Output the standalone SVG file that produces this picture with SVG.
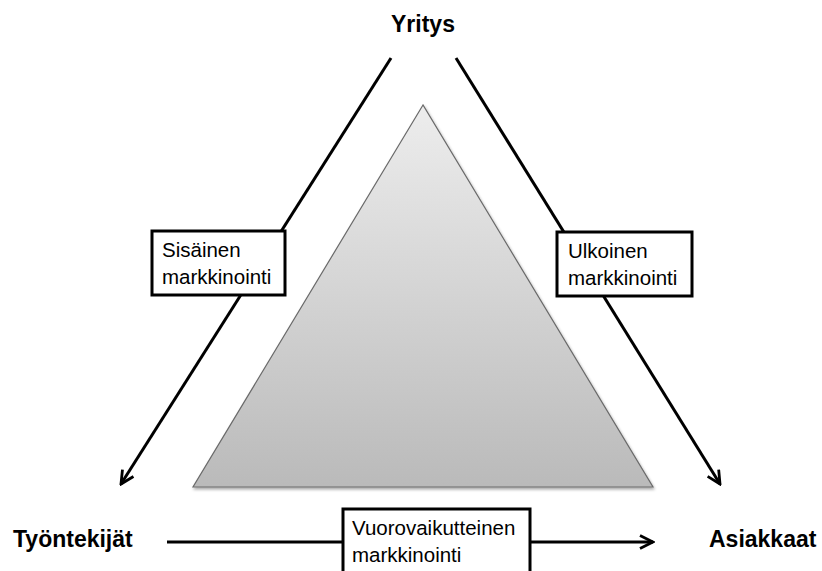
<svg xmlns="http://www.w3.org/2000/svg" width="822" height="571" viewBox="0 0 822 571">
<defs>
<linearGradient id="g" x1="0" y1="0" x2="0" y2="1">
<stop offset="0" stop-color="#ededed"/>
<stop offset="1" stop-color="#bababa"/>
</linearGradient>
<filter id="sh" x="-10%" y="-10%" width="120%" height="120%">
<feGaussianBlur in="SourceAlpha" stdDeviation="1.5"/>
<feOffset dx="1" dy="2"/>
<feComponentTransfer><feFuncA type="linear" slope="0.35"/></feComponentTransfer>
<feMerge><feMergeNode/><feMergeNode in="SourceGraphic"/></feMerge>
</filter>
<marker id="arr" viewBox="0 0 16 16" refX="14" refY="8" markerWidth="16" markerHeight="16" markerUnits="userSpaceOnUse" orient="auto">
<path d="M1,1.5 L14,8 L1,14.5" fill="none" stroke="#000" stroke-width="2.8"/>
</marker>
</defs>
<style>
.line{stroke:#000;stroke-width:3;fill:none}
.box{fill:#fff;stroke:#000;stroke-width:3}
.lbl{font-family:"Liberation Sans",Arial,sans-serif;font-size:20.5px;fill:#000}
.ttl{font-family:"Liberation Sans",Arial,sans-serif;font-size:23px;font-weight:bold;fill:#000}
</style>
<rect width="822" height="571" fill="#fff"/>
<g id="triangle">
<polygon points="423,105 193,487 653,487" fill="url(#g)" stroke="#6a6a6a" stroke-width="1.2" filter="url(#sh)"/>
</g>
<g id="connectors">
<line class="line" x1="391" y1="58" x2="121" y2="484" marker-end="url(#arr)"/>
<line class="line" x1="456" y1="58" x2="720" y2="484" marker-end="url(#arr)"/>
<line class="line" x1="167" y1="542" x2="653" y2="542" marker-end="url(#arr)"/>
</g>
<g id="yritys"><text class="ttl" x="423" y="32" text-anchor="middle">Yritys</text></g>
<g id="tyontekijat"><text class="ttl" x="13" y="547">Työntekijät</text></g>
<g id="asiakkaat"><text class="ttl" x="709" y="547">Asiakkaat</text></g>
<g id="sisainen">
<rect class="box" x="152" y="231" width="133" height="64"/>
<text class="lbl" x="162" y="257">Sisäinen</text>
<text class="lbl" x="162" y="284">markkinointi</text>
</g>
<g id="ulkoinen">
<rect class="box" x="557" y="232" width="135" height="64"/>
<text class="lbl" x="568" y="258">Ulkoinen</text>
<text class="lbl" x="568" y="285">markkinointi</text>
</g>
<g id="vuorovaikutteinen">
<rect class="box" x="343" y="509" width="187" height="70"/>
<text class="lbl" x="352" y="535">Vuorovaikutteinen</text>
<text class="lbl" x="352" y="562">markkinointi</text>
</g>
</svg>
